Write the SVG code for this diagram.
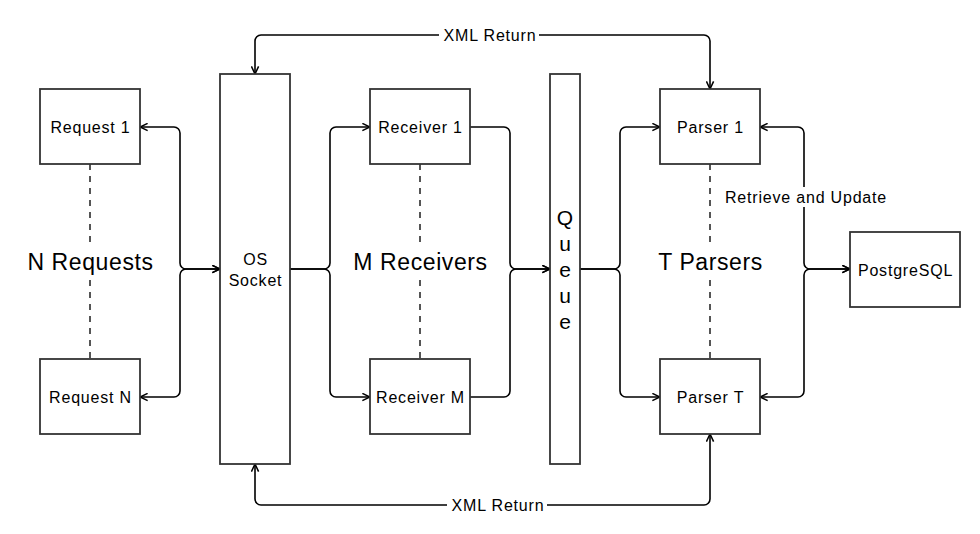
<svg xmlns="http://www.w3.org/2000/svg" width="980" height="534" viewBox="0 0 980 534">
<style>
.box{fill:#fff;stroke:#333;stroke-width:1.8}
.t{font-family:"Liberation Sans",Arial,sans-serif;font-size:16px;letter-spacing:0.8px;fill:#000;text-anchor:middle}
.big{font-family:"Liberation Sans",Arial,sans-serif;font-size:23px;letter-spacing:0.6px;fill:#000;text-anchor:middle}
.q{font-family:"Liberation Sans",Arial,sans-serif;font-size:21px;fill:#000;text-anchor:middle}
.e{fill:none;stroke:#000;stroke-width:1.6}
.a{marker-end:url(#arr)}
.b{marker-start:url(#arr);marker-end:url(#arr)}
.d{stroke:#555;stroke-width:2;stroke-dasharray:6 6;fill:none}
.bg{fill:#fff}
</style>
<defs>
<marker id="arr" viewBox="0 0 10 10" refX="9.5" refY="5" markerWidth="9" markerHeight="9" markerUnits="userSpaceOnUse" orient="auto-start-reverse">
<path d="M1,1 L9.5,5 L1,9" fill="none" stroke="#000" stroke-width="1.7"/>
</marker>
</defs>
<rect width="980" height="534" fill="#fff"/>

<g id="dashes">
<line class="d" x1="90" y1="164" x2="90" y2="246"/>
<line class="d" x1="90" y1="280" x2="90" y2="359"/>
<line class="d" x1="420" y1="164" x2="420" y2="246"/>
<line class="d" x1="420" y1="280" x2="420" y2="359"/>
<line class="d" x1="710" y1="164" x2="710" y2="246"/>
<line class="d" x1="710" y1="280" x2="710" y2="359"/>
</g>

<g id="connectors">
<path class="e b" d="M140,127 H174 A6,6 0 0 1 180,133 V263 A6,6 0 0 0 186,269 H220"/>
<path class="e b" d="M140,397 H174 A6,6 0 0 0 180,391 V275 A6,6 0 0 1 186,269 H220"/>
<path class="e a" d="M290,269 H324 A6,6 0 0 0 330,263 V133 A6,6 0 0 1 336,127 H370"/>
<path class="e a" d="M290,269 H324 A6,6 0 0 1 330,275 V391 A6,6 0 0 0 336,397 H370"/>
<path class="e a" d="M470,127 H504 A6,6 0 0 1 510,133 V263 A6,6 0 0 0 516,269 H550"/>
<path class="e a" d="M470,397 H504 A6,6 0 0 0 510,391 V275 A6,6 0 0 1 516,269 H550"/>
<path class="e a" d="M580,269 H614 A6,6 0 0 0 620,263 V133 A6,6 0 0 1 626,127 H660"/>
<path class="e a" d="M580,269 H614 A6,6 0 0 1 620,275 V391 A6,6 0 0 0 626,397 H660"/>
<path class="e b" d="M760,127 H798 A6,6 0 0 1 804,133 V263 A6,6 0 0 0 810,269 H850"/>
<path class="e b" d="M760,397 H798 A6,6 0 0 0 804,391 V275 A6,6 0 0 1 810,269 H850"/>
<path class="e b" d="M255,74 V41 A6,6 0 0 1 261,35 H704 A6,6 0 0 1 710,41 V89"/>
<path class="e b" d="M255,464 V499 A6,6 0 0 0 261,505 H704 A6,6 0 0 0 710,499 V434"/>
<rect class="bg" x="439" y="25" width="100" height="20"/>
<text class="t" x="490" y="40.5">XML Return</text>
<rect class="bg" x="447" y="495" width="100" height="20"/>
<text class="t" x="498" y="510.5">XML Return</text>
<rect class="bg" x="722" y="187" width="166" height="20"/>
<text class="t" x="806" y="203">Retrieve and Update</text>
</g>

<g id="request1"><rect class="box" x="40" y="89" width="100" height="75"/><text class="t" x="90.5" y="133">Request 1</text></g>
<g id="requestN"><rect class="box" x="40" y="359" width="100" height="75"/><text class="t" x="90.5" y="403">Request N</text></g>
<g id="socket"><rect class="box" x="220" y="74" width="70" height="390"/><text class="t" x="255.5" y="265">OS</text><text class="t" x="255.5" y="286">Socket</text></g>
<g id="receiver1"><rect class="box" x="370" y="89" width="100" height="75"/><text class="t" x="420.5" y="133">Receiver 1</text></g>
<g id="receiverM"><rect class="box" x="370" y="359" width="100" height="75"/><text class="t" x="420.5" y="403">Receiver M</text></g>
<g id="queue"><rect class="box" x="550" y="74" width="30" height="390"/>
<text class="q" x="565" y="225">Q</text><text class="q" x="565" y="251">u</text><text class="q" x="565" y="277">e</text><text class="q" x="565" y="303">u</text><text class="q" x="565" y="329">e</text></g>
<g id="parser1"><rect class="box" x="660" y="89" width="100" height="75"/><text class="t" x="710.5" y="133">Parser 1</text></g>
<g id="parserT"><rect class="box" x="660" y="359" width="100" height="75"/><text class="t" x="710.5" y="403">Parser T</text></g>
<g id="postgres"><rect class="box" x="850" y="232" width="110" height="75"/><text class="t" x="905.5" y="276">PostgreSQL</text></g>

<g id="labels">
<text class="big" x="90.5" y="270">N Requests</text>
<text class="big" x="420.5" y="270">M Receivers</text>
<text class="big" x="710.5" y="270">T Parsers</text>
</g>
</svg>
